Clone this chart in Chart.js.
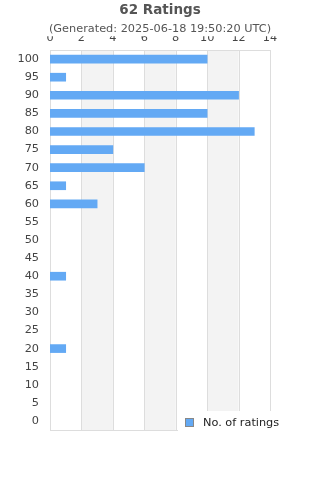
<!DOCTYPE html>
<html>
<head>
<meta charset="utf-8">
<script src="https://cdn.jsdelivr.net/npm/chart.js@4"></script>
<style>
  html, body { margin: 0; padding: 0; background: #fff; }
  #wrap { width: 320px; height: 480px; }
</style>
</head>
<body>
<div id="wrap"><canvas id="ratingsChart" width="320" height="480"></canvas></div>
<script>
const categories = ['100', '95', '90', '85', '80', '75', '70', '65', '60', '55', '50',
                    '45', '40', '35', '30', '25', '20', '15', '10', '5', '0'];
const ratingCounts = [10, 1, 12, 10, 13, 4, 6, 1, 3, 0, 0, 0, 1, 0, 0, 0, 1, 0, 0, 0, 0];
const xTicks = [0, 2, 4, 6, 8, 10, 12, 14];
const seriesLabel = 'No. of ratings';

const FONT = '"DejaVu Sans", sans-serif';
const barColor = '#63a9f4';

// grey bands between every other pair of gridlines, plus the frame
const bandPlugin = {
    id: 'bands',
    beforeDatasetsDraw(chart) {
        const { ctx, chartArea, scales } = chart;
        const x = scales.x;
        ctx.save();
        ctx.fillStyle = '#f3f3f3';
        for (let i = 1; i < xTicks.length - 1; i += 2) {
            const a = x.getPixelForValue(xTicks[i]);
            const b = x.getPixelForValue(xTicks[i + 1]);
            ctx.fillRect(a, chartArea.top, b - a, chartArea.bottom - chartArea.top);
        }
        ctx.strokeStyle = '#dddddd';
        ctx.lineWidth = 1;
        xTicks.forEach(t => {
            const p = Math.round(x.getPixelForValue(t)) + 0.5;
            ctx.beginPath();
            ctx.moveTo(p, chartArea.top);
            ctx.lineTo(p, chartArea.bottom);
            ctx.stroke();
        });
        ctx.beginPath();
        ctx.moveTo(chartArea.left, Math.round(chartArea.top) + 0.5);
        ctx.lineTo(chartArea.right, Math.round(chartArea.top) + 0.5);
        ctx.moveTo(chartArea.left, Math.round(chartArea.bottom) + 0.5);
        ctx.lineTo(chartArea.right, Math.round(chartArea.bottom) + 0.5);
        ctx.stroke();
        ctx.restore();
    },
    afterDraw(chart) {
        // legend drawn over the lower right of the plot
        const { ctx } = chart;
        const ds = chart.data.datasets[0];
        ctx.save();
        ctx.fillStyle = '#ffffff';
        ctx.fillRect(178, 411, 142, 30);
        ctx.fillStyle = ds.backgroundColor;
        ctx.fillRect(186, 419, 7, 7);
        ctx.strokeStyle = '#888888';
        ctx.lineWidth = 1;
        ctx.strokeRect(185.5, 418.5, 8, 8);
        ctx.fillStyle = '#222222';
        ctx.font = '11.3px ' + FONT;
        ctx.textBaseline = 'middle';
        ctx.fillText(ds.label, 203, 423);
        ctx.restore();
    }
};

new Chart(document.getElementById('ratingsChart'), {
    type: 'bar',
    data: {
        labels: categories,
        datasets: [{
            label: seriesLabel,
            data: ratingCounts.map(v => v || null),
            backgroundColor: barColor,
            barThickness: 8
        }]
    },
    options: {
        indexAxis: 'y',
        responsive: false,
        animation: false,
        layout: { padding: { left: 0, right: 0, bottom: 50, top: 0 } },
        plugins: {
            legend: { display: false },
            tooltip: { enabled: false },
            title: {
                display: true,
                text: '62 Ratings',
                color: '#555555',
                font: { family: FONT, size: 13.5, weight: 'bold' },
                padding: { top: 2.5, bottom: 4 }
            },
            subtitle: {
                display: true,
                text: '(Generated: 2025-06-18 19:50:20 UTC)',
                color: '#555555',
                font: { family: FONT, size: 11.3 },
                padding: { top: 0, bottom: 0 }
            }
        },
        scales: {
            x: {
                position: 'top',
                min: 0,
                max: 14,
                afterBuildTicks(scale) {
                    scale.ticks = xTicks.map(v => ({ value: v }));
                },
                afterFit(scale) { scale.height = 13.8; },
                grid: { display: false, drawTicks: false },
                border: { display: false },
                ticks: {
                    color: '#444444',
                    font: { family: FONT, size: 11.3 },
                    padding: 5.5,
                    maxRotation: 0
                }
            },
            y: {
                afterFit(scale) { scale.width = 50; },
                grid: { display: false, drawTicks: false },
                border: { display: false },
                ticks: {
                    color: '#444444',
                    font: { family: FONT, size: 11.3 },
                    padding: 11,
                    autoSkip: false
                }
            },
            // empty right-hand margin, so the titles stay centred on the canvas
            yRight: {
                position: 'right',
                afterFit(scale) { scale.width = 50; },
                grid: { display: false, drawTicks: false },
                border: { display: false },
                ticks: { display: false }
            }
        }
    },
    plugins: [bandPlugin]
});
</script>
</body>
</html>
